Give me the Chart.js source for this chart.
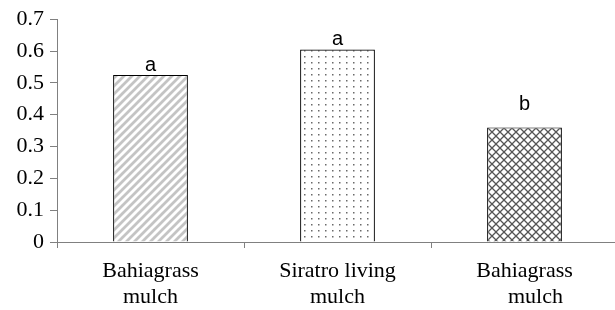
<!DOCTYPE html>
<html>
<head>
<meta charset="utf-8">
<script src="https://cdn.jsdelivr.net/npm/chart.js@4"></script>
<style>
  html, body { margin: 0; padding: 0; background: #fff; overflow: hidden; }
  #wrap { width: 620px; height: 310px; }
</style>
</head>
<body>
<div id="wrap"><canvas id="myChart" width="620" height="310"></canvas></div>
<script>
const treatments = [["Bahiagrass", "mulch"], ["Siratro living", "mulch"], ["Bahiagrass", "    mulch"]];
const values = [0.525, 0.605, 0.36];
const letters = ["a", "a", "b"];
const yTicks = [0, 0.1, 0.2, 0.3, 0.4, 0.5, 0.6, 0.7];

// fill patterns
function makeTile(w, h, draw) {
  const c = document.createElement("canvas");
  c.width = w; c.height = h;
  const g = c.getContext("2d");
  g.fillStyle = "#fff";
  g.fillRect(0, 0, w, h);
  draw(g);
  return c.getContext("2d").createPattern(c, "repeat");
}

const stripes = makeTile(8, 8, g => {
  g.strokeStyle = "#c4c4c4";
  g.lineWidth = 2.8;
  g.beginPath();
  g.moveTo(-2, 10); g.lineTo(10, -2);
  g.moveTo(-6, 6); g.lineTo(6, -6);
  g.moveTo(2, 14); g.lineTo(14, 2);
  g.stroke();
});

const dots = makeTile(7, 6, g => {
  g.fillStyle = "#6a6a6a";
  g.fillRect(3, 2, 1.5, 1.5);
});

const hatch = makeTile(8, 8, g => {
  g.strokeStyle = "#555";
  g.lineWidth = 1.3;
  g.beginPath();
  g.moveTo(0, 0); g.lineTo(8, 8);
  g.moveTo(8, 0); g.lineTo(0, 8);
  g.stroke();
});

const letterPlugin = {
  id: "letters",
  afterDatasetsDraw(chart, args, opts) {
    const ctx = chart.ctx;
    const meta = chart.getDatasetMeta(0);
    ctx.save();
    ctx.font = "20px 'Liberation Sans', Arial, sans-serif";
    ctx.fillStyle = "#000";
    ctx.textAlign = "center";
    ctx.textBaseline = "alphabetic";
    meta.data.forEach((bar, i) => {
      ctx.fillText(letters[i], bar.x, bar.y - opts.gaps[i]);
    });
    ctx.restore();
  }
};

new Chart("myChart", {
  type: "bar",
  data: {
    labels: treatments,
    datasets: [{
      data: values,
      backgroundColor: [stripes, dots, hatch],
      borderColor: "#000",
      borderWidth: 1.2,
      barPercentage: 0.4,
      categoryPercentage: 1
    }]
  },
  options: {
    responsive: false,
    animation: false,
    layout: { padding: { top: 19, right: 2, left: 0, bottom: 0 } },
    scales: {
      x: {
        grid: { drawOnChartArea: false, color: "#808080", tickLength: 6 },
        border: { color: "#808080" },
        ticks: {
          color: "#000",
          font: { family: "'Liberation Serif', 'Times New Roman', serif", size: 22, lineHeight: 1.15 },
          padding: 11,
          maxRotation: 0
        },
        afterFit: s => { s.height = 68; }
      },
      y: {
        min: 0,
        max: 0.7,
        grid: { drawOnChartArea: false, color: "#808080", tickLength: 7 },
        border: { color: "#808080" },
        afterBuildTicks: s => { s.ticks = yTicks.map(v => ({ value: v })); },
        ticks: {
          color: "#000",
          font: { family: "'Liberation Serif', 'Times New Roman', serif", size: 22 },
          padding: 6,
          callback: v => String(Math.round(v * 10) / 10)
        },
        afterFit: s => { s.width = 57; }
      }
    },
    plugins: {
      legend: { display: false },
      tooltip: { enabled: false },
      letters: { gaps: [4, 4, 17] }
    }
  },
  plugins: [letterPlugin]
});
</script>
</body>
</html>
